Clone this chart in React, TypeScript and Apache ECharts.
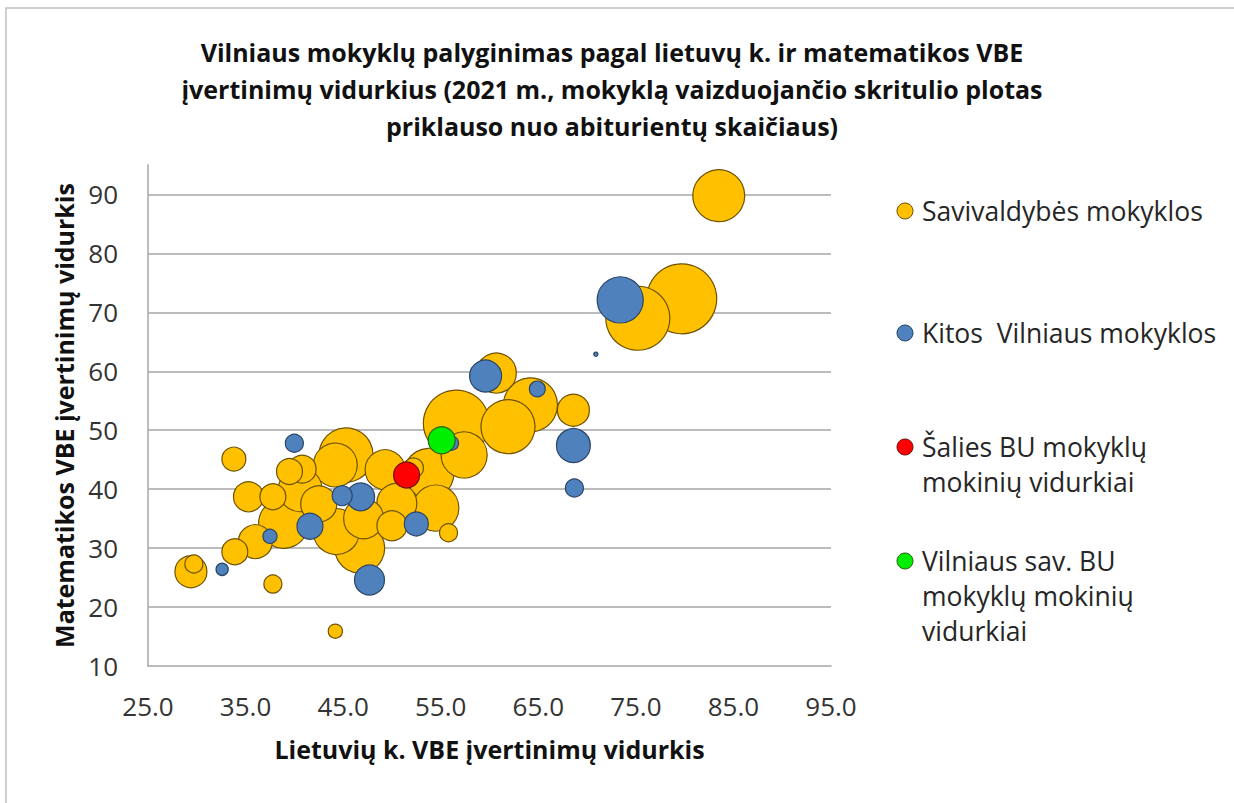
import React, { useEffect, useRef } from "react";
import * as echarts from "echarts";

// Savivaldybės mokyklos: Lithuanian avg, Math avg, number of graduates
const savLt = [83.5, 79.7, 75.2, 60.7, 64.2, 68.6, 56.6, 61.9, 57.4, 53.8, 54.5, 55.8, 49.3, 52.2, 50.5, 46.7, 44.3, 47.1, 45.3, 44.2, 33.8, 40.6, 39.5, 40.8, 35.3, 37.8, 38.9, 36.0, 33.9, 29.4, 29.7, 37.8, 44.2, 50.0, 42.5];
const savMat = [89.8, 72.3, 69.0, 59.7, 54.3, 53.4, 51.2, 50.6, 45.8, 42.7, 36.8, 32.6, 43.3, 43.6, 37.6, 30.0, 32.8, 35.0, 45.8, 44.1, 45.1, 39.9, 43.0, 43.4, 38.7, 38.7, 34.2, 31.1, 29.4, 26.0, 27.3, 23.9, 15.9, 33.8, 37.5];
const savN = [108, 196, 164, 64, 117, 41, 174, 117, 85, 100, 85, 13, 64, 16, 64, 100, 85, 64, 117, 77, 23, 77, 27, 31, 36, 27, 100, 46, 27, 41, 13, 13, 8, 36, 52];

// Kitos Vilniaus mokyklos
const kitLt = [73.4, 70.9, 59.6, 64.9, 68.6, 68.7, 56.1, 52.5, 47.7, 46.8, 44.9, 41.6, 40.0, 37.5, 32.6];
const kitMat = [72.1, 62.9, 59.2, 57.0, 47.4, 40.2, 47.8, 34.1, 24.6, 38.7, 38.9, 33.7, 47.8, 32.0, 26.4];
const kitN = [85, 0.7, 41, 10, 46, 13, 8, 23, 36, 31, 16, 27, 13, 8, 6];

// Šalies BU mokyklų mokinių vidurkiai
const salisLt = [51.5];
const salisMat = [42.4];
const salisN = [27];

// Vilniaus sav. BU mokyklų mokinių vidurkiai
const vilLt = [55.1];
const vilMat = [48.3];
const vilN = [29];

const xTicks = [25, 35, 45, 55, 65, 75, 85, 95];
const seriesNames = [
  "Savivaldybės mokyklos",
  "Kitos  Vilniaus mokyklos",
  "Šalies BU mokyklų\nmokinių vidurkiai",
  "Vilniaus sav. BU\nmokyklų mokinių\nvidurkiai",
];
const titleText =
  "Vilniaus mokyklų palyginimas pagal lietuvų k. ir matematikos VBE\nįvertinimų vidurkius (2021 m., mokyklą vaizduojančio skritulio plotas\npriklauso nuo abiturientų skaičiaus)";

const FONT = '"Open Sans", "Noto Sans", sans-serif';
const colors = ["#FFC000", "#4F81BD", "#FF0000", "#00EE00"];
const borders = ["#6e5200", "#2a4566", "#701010", "#2f6010"];

function build(xs: number[], ys: number[], ns: number[]) {
  const d = xs.map((x, i) => [x, ys[i], ns[i]]);
  d.sort((a, b) => b[2] - a[2]);
  return d;
}

export default function App() {
  const ref = useRef<HTMLDivElement>(null);
  useEffect(() => {
    if (!ref.current) return;
    const chart = echarts.init(ref.current, undefined, { renderer: "svg" });
    const datasets = [
      build(savLt, savMat, savN),
      build(kitLt, kitMat, kitN),
      build(salisLt, salisMat, salisN),
      build(vilLt, vilMat, vilN),
    ];
    const legendY = [211, 333, 447, 561];
    const graphic: any[] = [
      {
        type: "rect",
        shape: { x: 6, y: 8, width: 1240, height: 810 },
        style: { fill: "none", stroke: "#c0c0c0", lineWidth: 1.5 },
        silent: true,
      },
    ];
    seriesNames.forEach((n, i) => {
      graphic.push({
        type: "circle",
        shape: { cx: 905, cy: legendY[i], r: 8 },
        style: { fill: colors[i], stroke: borders[i], lineWidth: 1 },
      });
      graphic.push({
        type: "text",
        x: 922,
        y: legendY[i] - 17.5,
        style: {
          text: n,
          font: `26.5px ${FONT}`,
          fill: "#262626",
          lineHeight: 35,
          verticalAlign: "top",
        },
      });
    });
    chart.setOption({
      animation: false,
      backgroundColor: "#ffffff",
      title: {
        text: titleText,
        left: 607,
        top: 28,
        textAlign: "center",
        textStyle: {
          fontFamily: FONT,
          fontSize: 25,
          fontWeight: "bold",
          lineHeight: 37,
          color: "#111111",
        },
      },
      grid: { left: 148, right: 403, top: 165, bottom: 137, containLabel: false },
      xAxis: {
        type: "value",
        min: 25,
        max: 95,
        name: "Lietuvių k. VBE įvertinimų vidurkis",
        nameLocation: "middle",
        nameGap: 70,
        nameTextStyle: { fontFamily: FONT, fontSize: 25, fontWeight: "bold", color: "#111111" },
        axisLine: { lineStyle: { color: "#a6a6a6", width: 1.5 } },
        axisTick: { show: false },
        splitLine: { show: false },
        axisLabel: {
          customValues: xTicks,
          formatter: (v: number) => v.toFixed(1),
          fontFamily: FONT,
          fontSize: 26,
          color: "#333333",
          margin: 27,
        },
      },
      yAxis: {
        type: "value",
        min: 10,
        max: 95,
        interval: 10,
        name: "Matematikos VBE įvertinimų vidurkis",
        nameLocation: "middle",
        nameGap: 72,
        nameTextStyle: { fontFamily: FONT, fontSize: 25, fontWeight: "bold", color: "#111111" },
        axisLine: { show: true, lineStyle: { color: "#a6a6a6", width: 1.5 } },
        axisTick: { show: false },
        splitLine: {
          show: true,
          showMaxLine: false,
          showMinLine: false,
          lineStyle: { color: "#a6a6a6", width: 1.5 },
        },
        axisLabel: {
          showMaxLabel: false,
          fontFamily: FONT,
          fontSize: 26,
          color: "#333333",
          margin: 30,
        },
      },
      graphic,
      series: datasets.map((d, i) => ({
        type: "scatter",
        name: seriesNames[i],
        data: d,
        symbolSize: (v: number[]) => 5 * Math.sqrt(v[2]),
        itemStyle: { color: colors[i], borderColor: borders[i], borderWidth: 1.2, opacity: 1 },
        clip: false,
        z: 2 + i,
      })),
    });
    return () => chart.dispose();
  }, []);
  return (
    <div
      ref={ref}
      style={{ position: "absolute", left: 0, top: 0, width: 1234, height: 803 }}
    />
  );
}
